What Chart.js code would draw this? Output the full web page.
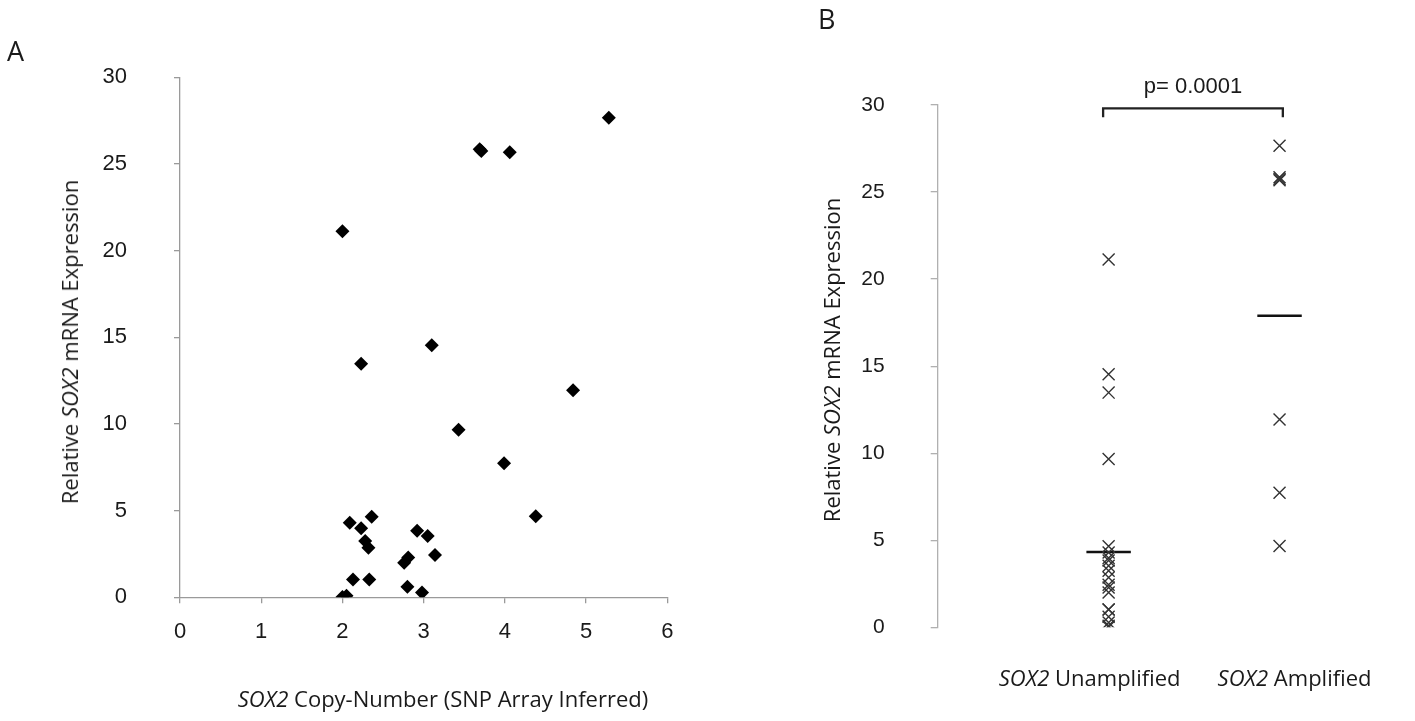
<!DOCTYPE html>
<html><head><meta charset="utf-8">
<script src="https://cdn.jsdelivr.net/npm/chart.js@4"></script>
<style>
html,body{margin:0;padding:0;background:#fff;}
#wrap{position:relative;width:1415px;height:721px;overflow:hidden;background:#fff;}
canvas{position:absolute;left:0;top:0;width:1415px;height:721px;}
.t{position:absolute;font-family:"Open Sans",sans-serif;font-size:22px;color:#1a1a1a;white-space:nowrap;transform:translate(-50%,-50%);line-height:1;}
.r{transform:translate(-50%,-50%) rotate(-90deg);}
.p{font-size:27px;transform:none;}
</style></head><body>
<div id="wrap">
<canvas id="ca" width="1415" height="721"></canvas>
<canvas id="cb" width="1415" height="721"></canvas>
<div class="t p" style="left:7px;top:37px">A</div>
<div class="t p" style="left:818px;top:5px">B</div>
<div class="t r" style="left:69px;top:342px">Relative <i>SOX2</i> mRNA Expression</div>
<div class="t" style="left:443px;top:698px"><i>SOX2</i> Copy-Number (SNP Array Inferred)</div>
<div class="t r" style="left:831px;top:360px">Relative <i>SOX2</i> mRNA Expression</div>
</div>
<script>
// Panel A: copy number vs expression
const copyNumber = [5.28, 3.69, 3.71, 4.06, 2.00, 3.10, 2.23, 4.84, 3.43, 3.99, 4.38, 2.36, 2.09, 2.23, 2.28, 2.32, 2.92, 3.05, 3.14, 2.81, 2.76, 2.13, 2.33, 2.80, 2.98, 2.00, 2.05];
const expressionA = [27.66, 25.85, 25.75, 25.68, 21.12, 14.54, 13.48, 11.94, 9.67, 7.73, 4.67, 4.65, 4.30, 3.98, 3.25, 2.86, 3.84, 3.54, 2.44, 2.29, 2.00, 1.02, 1.02, 0.61, 0.27, 0.02, 0.09];
const xTicksA = [0, 1, 2, 3, 4, 5, 6];
const yTicks = [0, 5, 10, 15, 20, 25, 30];

// Panel B: grouped by amplification status
const groups = ["Unamplified", "Amplified"];
const unamplified = [21.12, 14.54, 13.48, 9.67, 4.65, 4.30, 3.98, 3.25, 2.86, 3.84, 3.54, 2.44, 2.29, 2.00, 1.02, 1.02, 0.61, 0.27, 0.02, 0.09];
const amplified = [27.66, 25.85, 25.75, 25.68, 11.94, 7.73, 4.67];
const groupMeans = [4.33, 17.9];
const pValueText = "p= 0.0001";

const tickFont = {family: "'Liberation Sans', Arial, sans-serif", size: 22};

new Chart(document.getElementById('ca'), {
  type: 'scatter',
  data: {datasets: [{
    data: copyNumber.map((x, i) => ({x: x, y: expressionA[i]})),
    pointStyle: 'rectRot', pointRadius: 7, pointHoverRadius: 7,
    backgroundColor: '#000', borderColor: '#000', borderWidth: 0
  }]},
  options: {
    responsive: false, animation: false, events: [],
    layout: {padding: {left: 0, right: 747.7, top: 77.3, bottom: 0}},
    plugins: {legend: {display: false}, tooltip: {enabled: false}},
    scales: {
      x: {type: 'linear', min: xTicksA[0], max: xTicksA[xTicksA.length - 1],
        afterBuildTicks: s => { s.ticks = xTicksA.map(v => ({value: v})); },
        afterFit: s => { s.height = 123.7; },
        border: {color: '#9a9a9a', width: 1.3},
        grid: {drawOnChartArea: false, color: '#9a9a9a', tickLength: 6, lineWidth: 1.3},
        ticks: {font: tickFont, color: '#1a1a1a', padding: 15, maxRotation: 0}},
      y: {type: 'linear', min: 0, max: 30,
        afterBuildTicks: s => { s.ticks = yTicks.map(v => ({value: v})); },
        afterFit: s => { s.width = 180; },
        border: {color: '#9a9a9a', width: 1.3},
        grid: {drawOnChartArea: false, color: '#9a9a9a', tickLength: 6, lineWidth: 1.3},
        ticks: {font: tickFont, color: '#1a1a1a', padding: 47}}
    }
  }
});

const bPlugin = {
  id: 'bExtras',
  afterDraw(chart) {
    const ctx = chart.ctx, xs = chart.scales.x, ca = chart.chartArea;
    const x1 = xs.getPixelForValue(1) - 5.5, x2 = xs.getPixelForValue(2) + 3.3;
    const yTop = ca.top + 3.3;
    ctx.save();
    ctx.strokeStyle = '#222'; ctx.lineWidth = 2.3; ctx.lineJoin = 'miter';
    ctx.beginPath();
    ctx.moveTo(x1, yTop + 9); ctx.lineTo(x1, yTop); ctx.lineTo(x2, yTop); ctx.lineTo(x2, yTop + 9);
    ctx.stroke();
    ctx.fillStyle = '#1a1a1a';
    ctx.font = "22px 'Liberation Sans', Arial, sans-serif";
    ctx.textAlign = 'center'; ctx.textBaseline = 'middle';
    ctx.fillText(pValueText, (x1 + x2) / 2, yTop - 21);
    // category labels with italic gene name
    const offs = [-19, 15];
    groups.forEach((g, i) => {
      const cx = xs.getPixelForValue(i + 1) + offs[i];
      const a = 'SOX2', b = ' ' + g;
      ctx.font = "italic 22px 'Open Sans', sans-serif";
      const wa = ctx.measureText(a).width;
      ctx.font = "22px 'Open Sans', sans-serif";
      const wb = ctx.measureText(b).width;
      const left = cx - (wa + wb) / 2;
      ctx.textAlign = 'left';
      ctx.font = "italic 22px 'Open Sans', sans-serif";
      ctx.fillText(a, left, 680);
      ctx.font = "22px 'Open Sans', sans-serif";
      ctx.fillText(b, left + wa, 680);
    });
    ctx.restore();
  }
};

new Chart(document.getElementById('cb'), {
  type: 'scatter',
  data: {datasets: [
    {data: unamplified.map(v => ({x: 1, y: v})), pointStyle: 'crossRot', pointRadius: 8.5, pointHoverRadius: 8.5,
      borderColor: '#333', borderWidth: 1.4, backgroundColor: 'transparent'},
    {data: amplified.map(v => ({x: 2, y: v})), pointStyle: 'crossRot', pointRadius: 8.5, pointHoverRadius: 8.5,
      borderColor: '#333', borderWidth: 1.4, backgroundColor: 'transparent'},
    {type: 'line', data: [{x: 0.87, y: groupMeans[0]}, {x: 1.13, y: groupMeans[0]}], borderColor: '#111', borderWidth: 2.5, pointRadius: 0, showLine: true},
    {type: 'line', data: [{x: 1.87, y: groupMeans[1]}, {x: 2.13, y: groupMeans[1]}], borderColor: '#111', borderWidth: 2.5, pointRadius: 0, showLine: true}
  ]},
  options: {
    responsive: false, animation: false, events: [],
    layout: {padding: {left: 0, right: 50, top: 105, bottom: 93.7}},
    plugins: {legend: {display: false}, tooltip: {enabled: false}},
    scales: {
      x: {type: 'linear', min: 0, max: 2.5, display: false},
      y: {type: 'linear', min: 0, max: 30,
        afterBuildTicks: s => { s.ticks = yTicks.map(v => ({value: v})); },
        afterFit: s => { s.width = 937.7; },
        border: {color: '#b0b0b0', width: 1.3},
        grid: {drawOnChartArea: false, color: '#b0b0b0', tickLength: 7, lineWidth: 1.3},
        ticks: {font: {family: "'Liberation Sans', Arial, sans-serif", size: 21}, color: '#1a1a1a', padding: 46}}
    }
  },
  plugins: [bPlugin]
});
</script>
</body></html>
